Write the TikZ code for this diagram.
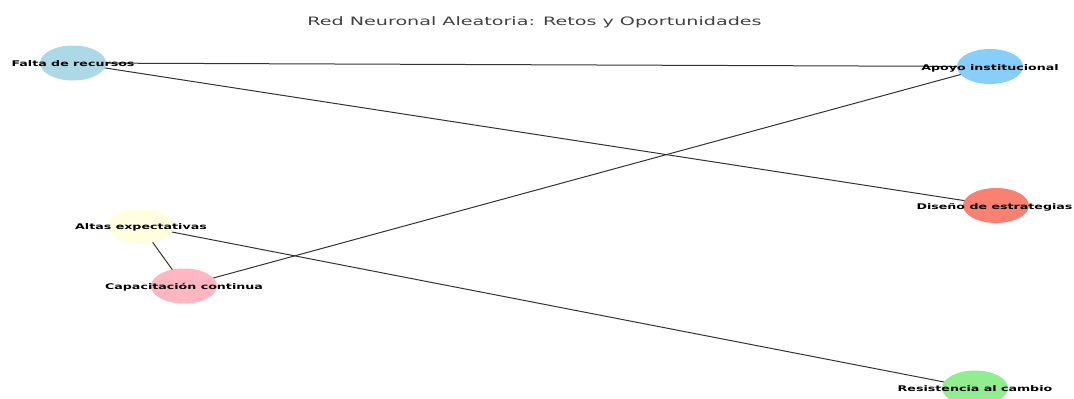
\documentclass[tikz,border=0pt]{standalone}
\usepackage{fontspec}
\setmainfont{DejaVu Sans}
\newfontfamily\djv{DejaVu Sans}
\usetikzlibrary{shapes.geometric,backgrounds}
\definecolor{clightblue}{HTML}{ADD8E6}
\definecolor{cskyblue}{HTML}{87CEFA}
\definecolor{csalmon}{HTML}{FA8072}
\definecolor{cyellow}{HTML}{FFFFE0}
\definecolor{cpink}{HTML}{FFB6C1}
\definecolor{cgreen}{HTML}{90EE90}
\tikzset{
  neuron/.style={ellipse, draw=none, inner sep=0pt, minimum width=66pt, minimum height=35pt},
  lbl/.style={anchor=base, inner sep=0pt, yshift=-3.5pt, font=\djv\bfseries\fontsize{7.8}{9}\selectfont, text=black},
  edge/.style={draw=black!80, line width=1pt},
  ttl/.style={anchor=base, inner sep=0pt, font=\djv\fontsize{11.6}{13}\selectfont, text=black!75}
}
\newcommand{\hs}[1]{\scalebox{1.62}[1]{#1}}
\begin{document}
\begin{tikzpicture}[x=1pt,y=-1pt]
\useasboundingbox (0,0) rectangle (1074,399);
\clip (0,0) rectangle (1074,399);
\node[ttl] (title) at (534.5,25) {\scalebox{1.65}[1]{Red Neuronal Aleatoria: Retos y Oportunidades}};

\node[neuron, fill=clightblue] (falta) at (73,63) {};
\node[neuron, fill=cskyblue] (apoyo) at (990,66.5) {};
\node[neuron, fill=csalmon] (diseno) at (996,205.5) {};
\node[neuron, fill=cyellow] (altas) at (141,226) {};
\node[neuron, fill=cpink] (capac) at (184,286) {};
\node[neuron, fill=cgreen] (resist) at (975,388) {};

\begin{scope}[on background layer]
\draw[edge] (falta.center) -- (apoyo.center);
\draw[edge] (falta.center) -- (diseno.center);
\draw[edge] (apoyo.center) -- (capac.center);
\draw[edge] (altas.center) -- (capac.center);
\draw[edge] (altas.center) -- (resist.center);
\end{scope}

\node[lbl] (lfalta) at (falta.center) {\hs{Falta de recursos}};
\node[lbl] (lapoyo) at (apoyo.center) {\hs{Apoyo institucional}};
\node[lbl] (ldiseno) at ([xshift=-1.5pt]diseno.center) {\hs{Diseño de estrategias}};
\node[lbl] (laltas) at (altas.center) {\hs{Altas expectativas}};
\node[lbl] (lcapac) at (capac.center) {\hs{Capacitación continua}};
\node[lbl] (lresist) at (resist.center) {\hs{Resistencia al cambio}};
\end{tikzpicture}
\end{document}
